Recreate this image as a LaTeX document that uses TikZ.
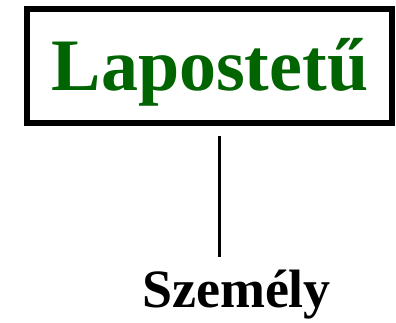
\documentclass[tikz,border=0pt]{standalone}
\usepackage{fontspec}
\setmainfont{Liberation Serif}
\usetikzlibrary{positioning}
\definecolor{darkleaf}{RGB}{0,100,0}

\begin{document}
\begin{tikzpicture}
[x=1pt,y=1pt,
frame/.style={draw,line width=6pt,minimum width=365pt,minimum height=114pt},
title/.style={darkleaf,font=\fontsize{74}{74}\selectfont\bfseries,anchor=base},
leaf/.style={black,font=\fontsize{54}{54}\selectfont\bfseries,anchor=base},
link/.style={line width=3pt}]

\useasboundingbox (0,0) rectangle (396,322);

\node (box) [frame] at (209.5,256) {};
\node (top) [title] at (210,232) {Lapostetű};
\node (bottom) [leaf] at (236.5,15) {Személy};

\coordinate (from) at (219,186);
\coordinate (to) at (219,65);
\draw [link] (from) -- (to);
\end{tikzpicture}
\end{document}
